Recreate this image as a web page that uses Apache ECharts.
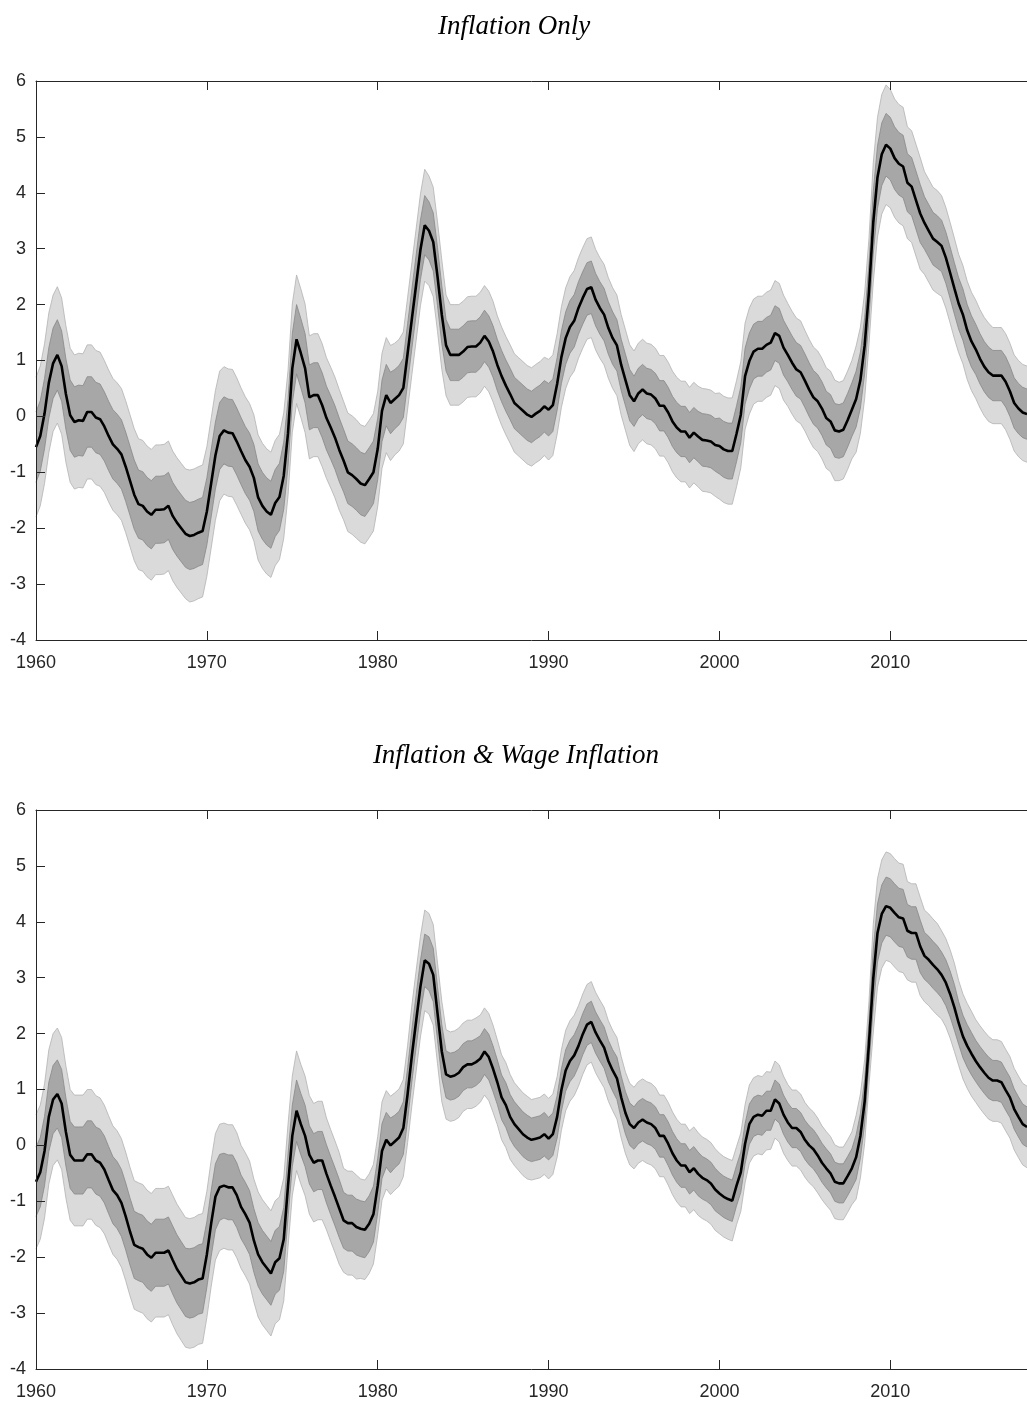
<!DOCTYPE html>
<html><head><meta charset="utf-8">
<script src="https://cdn.jsdelivr.net/npm/echarts@6/dist/echarts.min.js"></script>
<style>html,body{margin:0;padding:0;background:#fff}#c{width:1027px;height:1401px}</style>
</head><body><div id="c"></div>
<script>
// Quarterly observations, first quarter = 1960Q1, last = 2018Q1
const startYear = 1960;
const titles = ['Inflation Only', 'Inflation & Wage Inflation'];
const xTicks = [1960, 1970, 1980, 1990, 2000, 2010];

// Panel 1: median (quarterly)
const medTop = [
 -0.55,-0.35,0.05,0.6,  0.95,1.1,0.9,0.4,  0.02,-0.1,-0.07,-0.08,  0.08,0.08,-0.02,-0.05,
 -0.18,-0.35,-0.5,-0.58,  -0.68,-0.9,-1.15,-1.4,  -1.57,-1.6,-1.7,-1.76,  -1.67,-1.67,-1.66,-1.6,
 -1.78,-1.9,-2.0,-2.1,  -2.14,-2.12,-2.08,-2.05,  -1.7,-1.2,-0.7,-0.35,  -0.25,-0.29,-0.3,-0.45,
 -0.62,-0.78,-0.9,-1.1,  -1.45,-1.6,-1.7,-1.76,  -1.55,-1.44,-1.06,-0.3,  0.86,1.38,1.13,0.86,
 0.34,0.38,0.38,0.2,  -0.03,-0.2,-0.38,-0.6,  -0.79,-1.0,-1.05,-1.12,  -1.2,-1.23,-1.12,-1.0,
 -0.58,0.1,0.38,0.24,  0.31,0.38,0.51,1.13,  1.75,2.36,2.98,3.42,  3.32,3.12,2.5,1.82,
 1.27,1.1,1.1,1.1,  1.16,1.24,1.25,1.25,  1.32,1.44,1.34,1.16,  0.92,0.72,0.55,0.4,
 0.24,0.17,0.1,0.03,  -0.01,0.05,0.1,0.18,  0.12,0.2,0.58,1.06,  1.4,1.6,1.71,1.94,
 2.12,2.28,2.31,2.09,  1.94,1.82,1.58,1.4,  1.27,0.92,0.65,0.38,  0.27,0.41,0.48,0.41,
 0.39,0.32,0.19,0.19,  0.07,-0.09,-0.2,-0.27,  -0.27,-0.38,-0.29,-0.36,  -0.42,-0.43,-0.45,-0.51,
 -0.53,-0.59,-0.62,-0.62,  -0.31,0.03,0.72,0.99,  1.16,1.21,1.21,1.28,  1.32,1.49,1.44,1.23,
 1.1,0.96,0.84,0.79,  0.64,0.48,0.34,0.27,  0.14,-0.03,-0.09,-0.25,  -0.27,-0.24,-0.07,0.12,
 0.31,0.65,1.27,2.23,  3.46,4.28,4.69,4.86,  4.79,4.62,4.52,4.47,  4.18,4.11,3.87,3.63,
 3.46,3.32,3.18,3.12,  3.05,2.84,2.57,2.29,  2.02,1.82,1.54,1.34,  1.2,1.03,0.89,0.79,
 0.73,0.73,0.73,0.62,  0.45,0.24,0.14,0.07,  0.04
];
// Panel 1: half-widths of the inner and outer bands (one value per year, 1960-2018)
const innerTop = [
 0.63,0.63,0.63,0.63,0.62,0.62,0.61,0.6,0.6,0.6,
 0.6,0.6,0.6,0.6,0.6,0.62,0.58,0.57,0.56,0.56,
 0.55,0.53,0.53,0.52,0.46,0.46,0.46,0.46,0.46,0.46,
 0.47,0.47,0.47,0.47,0.46,0.45,0.45,0.45,0.45,0.47,
 0.5,0.5,0.49,0.49,0.48,0.48,0.48,0.48,0.5,0.56,
 0.56,0.52,0.47,0.46,0.46,0.45,0.45,0.45,0.45
];
const outerTop = [
 1.25,1.22,1.2,1.2,1.18,1.18,1.17,1.16,1.16,1.18,
 1.16,1.14,1.13,1.12,1.12,1.15,1.1,1.08,1.06,1.05,
 1.03,1.0,1.0,0.98,0.9,0.9,0.9,0.88,0.88,0.88,
 0.9,0.9,0.9,0.9,0.9,0.9,0.9,0.9,0.9,0.92,
 0.95,0.95,0.94,0.94,0.92,0.9,0.9,0.88,0.95,1.07,
 1.06,1.0,0.92,0.9,0.88,0.88,0.86,0.86,0.86
];

// Panel 2: median (quarterly)
const medBot = [
 -0.65,-0.48,-0.1,0.51,  0.82,0.92,0.75,0.24,  -0.17,-0.27,-0.27,-0.27,  -0.16,-0.16,-0.27,-0.31,
 -0.43,-0.62,-0.8,-0.89,  -1.03,-1.27,-1.54,-1.78,  -1.82,-1.85,-1.95,-2.01,  -1.92,-1.92,-1.92,-1.88,
 -2.05,-2.21,-2.33,-2.45,  -2.47,-2.45,-2.4,-2.38,  -1.95,-1.4,-0.92,-0.75,  -0.72,-0.75,-0.75,-0.89,
 -1.1,-1.23,-1.38,-1.7,  -1.95,-2.09,-2.19,-2.29,  -2.09,-2.02,-1.68,-0.72,  0.17,0.62,0.38,0.17,
 -0.17,-0.31,-0.27,-0.27,  -0.51,-0.72,-0.92,-1.13,  -1.34,-1.39,-1.39,-1.46,  -1.49,-1.51,-1.4,-1.23,
 -0.72,-0.1,0.1,0.0,  0.07,0.14,0.31,0.92,  1.61,2.23,2.84,3.31,  3.25,3.05,2.36,1.68,
 1.27,1.23,1.25,1.3,  1.4,1.45,1.45,1.49,  1.55,1.68,1.58,1.37,  1.13,0.86,0.72,0.51,
 0.38,0.29,0.2,0.14,  0.1,0.12,0.14,0.2,  0.12,0.2,0.51,0.99,  1.34,1.51,1.61,1.78,
 1.99,2.16,2.21,2.02,  1.88,1.75,1.51,1.34,  1.2,0.86,0.58,0.38,  0.31,0.41,0.46,0.41,
 0.38,0.31,0.17,0.17,  0.03,-0.14,-0.27,-0.36,  -0.36,-0.48,-0.41,-0.51,  -0.58,-0.62,-0.68,-0.79,
 -0.86,-0.92,-0.96,-0.99,  -0.72,-0.48,0.03,0.38,  0.51,0.55,0.53,0.62,  0.62,0.82,0.75,0.55,
 0.41,0.31,0.31,0.24,  0.1,0.0,-0.07,-0.18,  -0.31,-0.41,-0.5,-0.65,  -0.68,-0.68,-0.55,-0.41,
 -0.21,0.17,0.79,1.82,  2.98,3.8,4.14,4.28,  4.25,4.16,4.08,4.06,  3.84,3.8,3.8,3.56,
 3.39,3.32,3.23,3.15,  3.05,2.91,2.71,2.47,  2.19,1.95,1.78,1.64,  1.51,1.4,1.3,1.21,
 1.16,1.16,1.13,0.99,  0.86,0.65,0.51,0.38,  0.33
];
const innerBot = [
 0.62,0.61,0.6,0.6,0.6,0.6,0.6,0.6,0.61,0.62,
 0.59,0.58,0.57,0.57,0.57,0.55,0.52,0.52,0.5,0.5,
 0.49,0.47,0.47,0.48,0.42,0.42,0.41,0.4,0.4,0.39,
 0.38,0.37,0.37,0.37,0.38,0.38,0.38,0.39,0.39,0.38,
 0.37,0.36,0.35,0.35,0.35,0.35,0.35,0.35,0.4,0.52,
 0.52,0.47,0.42,0.41,0.38,0.37,0.36,0.36,0.36
];
const outerBot = [
 1.2,1.18,1.17,1.16,1.15,1.15,1.15,1.15,1.16,1.16,
 1.13,1.12,1.1,1.12,1.1,1.07,1.06,1.0,0.93,0.89,
 0.88,0.87,0.9,0.9,0.8,0.79,0.78,0.76,0.74,0.72,
 0.72,0.72,0.72,0.72,0.73,0.73,0.73,0.74,0.74,0.73,
 0.72,0.7,0.7,0.69,0.68,0.67,0.66,0.65,0.75,0.97,
 0.97,0.88,0.82,0.79,0.76,0.74,0.73,0.73,0.73
];

const years = medTop.map((_, i) => startYear + i * 0.25);
const panels = [
  { med: medTop, inner: innerTop, outer: outerTop },
  { med: medBot, inner: innerBot, outer: outerBot }
];

const gridTops = [81, 810];
const plotH = 559;
const axisColor = '#262626';
const labelFont = 'Arial, "Liberation Sans", Helvetica, sans-serif';
const lightFill = '#dadada', darkFill = '#a7a7a7';
const lightEdge = '#b3b3b3', darkEdge = '#888888';

const grids = [], xAxes = [], yAxes = [], series = [];
panels.forEach((p, g) => {
  grids.push({ left: 36, right: 0, top: gridTops[g], height: plotH, containLabel: false });
  const baseX = {
    type: 'value', gridIndex: g, min: 1960, max: 2018, interval: 10, z: 10,
    splitLine: { show: false },
    axisLine: { show: true, onZero: false, lineStyle: { color: axisColor, width: 1 } },
    axisTick: { show: true, inside: true, length: 9, lineStyle: { color: axisColor } }
  };
  xAxes.push(Object.assign({}, baseX, {
    position: 'bottom',
    axisLabel: { show: true, fontSize: 18, color: axisColor, fontFamily: labelFont, margin: 14,
      showMaxLabel: false,
      formatter: v => (xTicks.indexOf(Math.round(v)) >= 0 && Math.abs(v - Math.round(v)) < 1e-6) ? String(Math.round(v)) : '' }
  }));
  xAxes.push(Object.assign({}, baseX, { position: 'top', axisLabel: { show: false } }));
  yAxes.push({
    type: 'value', gridIndex: g, min: -4, max: 6, interval: 1, z: 10,
    splitLine: { show: false },
    axisLine: { show: true, onZero: false, lineStyle: { color: axisColor, width: 1 } },
    axisTick: { show: true, inside: true, length: 9, lineStyle: { color: axisColor } },
    axisLabel: { fontSize: 18, color: axisColor, fontFamily: labelFont, margin: 10 }
  });
  const xi = g * 2;
  const half = (arr, i) => arr[Math.floor(i / 4)];
  const common = { type: 'line', xAxisIndex: xi, yAxisIndex: g, showSymbol: false, symbol: 'none', silent: true };
  const edge = (sign, widths) => years.map((x, i) => [x, p.med[i] + sign * half(widths, i)]);
  // Layered fills down to the axis floor: outer top (light), inner top (dark),
  // inner bottom (light), outer bottom (white) -> leaves the nested bands visible.
  series.push(Object.assign({}, common, {
    data: edge(1, p.outer), lineStyle: { color: lightEdge, width: 0.8 },
    areaStyle: { color: lightFill, opacity: 1, origin: 'start' }
  }));
  series.push(Object.assign({}, common, {
    data: edge(1, p.inner), lineStyle: { color: darkEdge, width: 0.8 },
    areaStyle: { color: darkFill, opacity: 1, origin: 'start' }
  }));
  series.push(Object.assign({}, common, {
    data: edge(-1, p.inner), lineStyle: { color: darkEdge, width: 0.8 },
    areaStyle: { color: lightFill, opacity: 1, origin: 'start' }
  }));
  series.push(Object.assign({}, common, {
    data: edge(-1, p.outer), lineStyle: { color: lightEdge, width: 0.8 },
    areaStyle: { color: '#ffffff', opacity: 1, origin: 'start' }
  }));
  // median
  series.push(Object.assign({}, common, {
    data: years.map((x, i) => [x, p.med[i]]),
    lineStyle: { color: '#000000', width: 2.6 }
  }));
});

const titleFont = 'italic 27px "Liberation Serif", "DejaVu Serif", serif';
const chart = echarts.init(document.getElementById('c'), null, { renderer: 'canvas' });
chart.setOption({
  animation: false,
  backgroundColor: '#ffffff',
  grid: grids, xAxis: xAxes, yAxis: yAxes, series: series,
  graphic: [
    { type: 'text', x: 514, y: 27, style: { text: titles[0], font: titleFont, fill: '#000', textAlign: 'center', textVerticalAlign: 'middle' } },
    { type: 'text', x: 516, y: 756, style: { text: titles[1], font: titleFont, fill: '#000', textAlign: 'center', textVerticalAlign: 'middle' } }
  ]
});
</script></body></html>
